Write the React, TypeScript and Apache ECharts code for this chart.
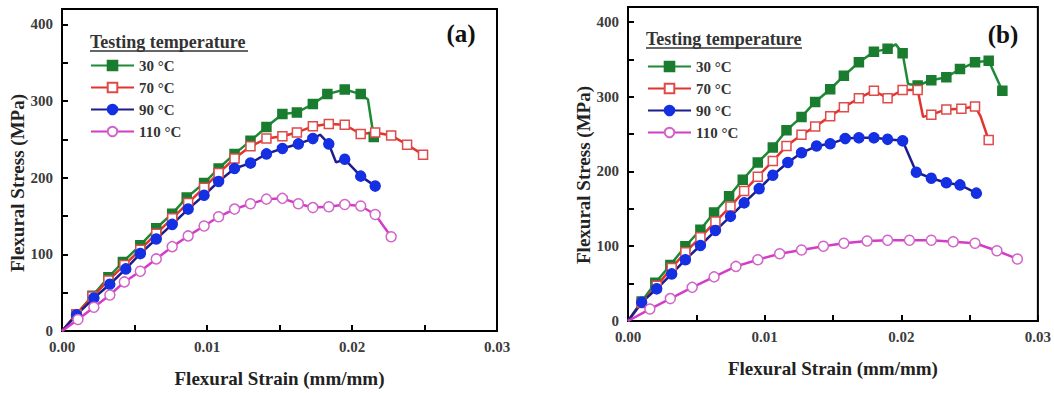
import { useEffect, useRef } from 'react';
import * as echarts from 'echarts';

const temps = ['30 °C', '70 °C', '90 °C', '110 °C'];
const strainTicks = [0, 0.01, 0.02, 0.03];
const stressTicks = [0, 100, 200, 300, 400];

// Each point: [flexural strain (mm/mm), flexural stress (MPa), 1 = marker drawn / 0 = bare vertex]
// Panel (a)
const a30 = [
  [0, 0, 0], [0.001, 22, 1], [0.0021, 46, 1], [0.0032, 70, 1], [0.0042, 90, 1], [0.0054, 112, 1],
  [0.0065, 134, 1], [0.0076, 153, 1], [0.0086, 174, 1], [0.0098, 193, 1], [0.0108, 212, 1],
  [0.0119, 231, 1], [0.013, 248, 1], [0.0141, 266, 1], [0.0152, 283, 1], [0.0162, 285, 1],
  [0.0173, 296, 1], [0.0183, 309, 1], [0.0195, 315, 1], [0.0206, 309, 1], [0.0211, 302, 0],
  [0.0215, 253, 1],
];
const a70 = [
  [0, 0, 0], [0.001, 22, 1], [0.0021, 45, 1], [0.0032, 66, 1], [0.0043, 86, 1], [0.0054, 106, 1],
  [0.0065, 127, 1], [0.0076, 147, 1], [0.0087, 167, 1], [0.0098, 187, 1], [0.0108, 206, 1],
  [0.0119, 225, 1], [0.013, 241, 1], [0.0141, 251, 1], [0.0152, 254, 1], [0.0162, 259, 1],
  [0.0173, 267, 1], [0.0184, 270, 1], [0.0195, 269, 1], [0.0206, 257, 1], [0.0216, 259, 1],
  [0.0227, 255, 1], [0.0238, 243, 1], [0.0249, 230, 1],
];
const a90 = [
  [0, 0, 0], [0.001, 21, 1], [0.0022, 43, 1], [0.0033, 61, 1], [0.0044, 81, 1], [0.0054, 101, 1],
  [0.0065, 120, 1], [0.0076, 139, 1], [0.0087, 159, 1], [0.0098, 177, 1], [0.0108, 195, 1],
  [0.0119, 212, 1], [0.013, 219, 1], [0.0141, 231, 1], [0.0152, 238, 1], [0.0163, 244, 1],
  [0.0173, 251, 1], [0.0178, 256, 0], [0.0184, 244, 1], [0.0189, 220, 0], [0.0195, 224, 1],
  [0.0206, 202, 1], [0.0216, 189, 1],
];
const a110 = [
  [0, 0, 0], [0.0011, 15, 1], [0.0022, 31, 1], [0.0033, 47, 1], [0.0043, 64, 1], [0.0054, 78, 1],
  [0.0065, 94, 1], [0.0076, 110, 1], [0.0087, 124, 1], [0.0098, 137, 1], [0.0108, 149, 1],
  [0.0119, 159, 1], [0.013, 166, 1], [0.0141, 172, 1], [0.0152, 173, 1], [0.0163, 166, 1],
  [0.0173, 161, 1], [0.0184, 162, 1], [0.0195, 165, 1], [0.0206, 163, 1], [0.0216, 152, 1],
  [0.0227, 123, 1],
];

// Panel (b)
const b30 = [
  [0, 0, 0], [0.001, 26, 1], [0.002, 51, 1], [0.0031, 75, 1], [0.0042, 100, 1], [0.0053, 122, 1],
  [0.0063, 145, 1], [0.0074, 167, 1], [0.0084, 189, 1], [0.0095, 212, 1], [0.0106, 232, 1],
  [0.0116, 255, 1], [0.0127, 273, 1], [0.0137, 293, 1], [0.0148, 310, 1], [0.0158, 328, 1],
  [0.0169, 346, 1], [0.018, 360, 1], [0.019, 364, 1], [0.0196, 370, 0], [0.0201, 358, 1],
  [0.0205, 317, 0], [0.0212, 315, 1], [0.0222, 322, 1], [0.0233, 326, 1], [0.0243, 337, 1],
  [0.0254, 346, 1], [0.0264, 348, 1], [0.0274, 308, 1],
];
const b70 = [
  [0, 0, 0], [0.001, 24, 1], [0.0021, 47, 1], [0.0032, 71, 1], [0.0042, 92, 1], [0.0053, 112, 1],
  [0.0064, 133, 1], [0.0075, 153, 1], [0.0085, 174, 1], [0.0095, 193, 1], [0.0106, 214, 1],
  [0.0116, 234, 1], [0.0127, 249, 1], [0.0137, 260, 1], [0.0148, 274, 1], [0.0158, 286, 1],
  [0.0169, 298, 1], [0.018, 308, 1], [0.019, 298, 1], [0.0201, 309, 1], [0.0212, 309, 1],
  [0.0216, 273, 0], [0.0222, 276, 1], [0.0233, 283, 1], [0.0244, 284, 1], [0.0254, 287, 1],
  [0.0258, 274, 0], [0.0264, 242, 1],
];
const b90 = [
  [0, 0, 0], [0.001, 25, 1], [0.0021, 43, 1], [0.0032, 63, 1], [0.0042, 82, 1], [0.0053, 101, 1],
  [0.0064, 121, 1], [0.0075, 140, 1], [0.0085, 158, 1], [0.0096, 177, 1], [0.0106, 195, 1],
  [0.0117, 212, 1], [0.0127, 225, 1], [0.0138, 234, 1], [0.0148, 237, 1], [0.0159, 244, 1],
  [0.0169, 245, 1], [0.018, 245, 1], [0.019, 243, 1], [0.0201, 241, 1], [0.0211, 199, 1],
  [0.0222, 191, 1], [0.0233, 185, 1], [0.0243, 182, 1], [0.0255, 171, 1],
];
const b110 = [
  [0, 0, 0], [0.0016, 16, 1], [0.0031, 30, 1], [0.0047, 45, 1], [0.0063, 59, 1], [0.0079, 73, 1],
  [0.0095, 82, 1], [0.0111, 90, 1], [0.0127, 95, 1], [0.0143, 100, 1], [0.0158, 104, 1],
  [0.0175, 107, 1], [0.019, 108, 1], [0.0206, 108, 1], [0.0222, 108, 1], [0.0238, 106, 1],
  [0.0254, 104, 1], [0.027, 94, 1], [0.0285, 83, 1],
];

const panelA = [a30, a70, a90, a110];
const panelB = [b30, b70, b90, b110];

const FONT = '"Liberation Serif", "Times New Roman", serif';

const looks = [
  { symbol: 'rect', size: 9, line: '#1f8a36', fill: '#1a7c2f', border: '#1a7c2f' },
  { symbol: 'rect', size: 9, line: '#e2332c', fill: '#ffffff', border: '#e04a4a' },
  { symbol: 'circle', size: 10, line: '#1d1d8c', fill: '#1430e2', border: '#1430e2' },
  { symbol: 'circle', size: 10, line: '#d23cc6', fill: '#ffffff', border: '#d264c8' },
];

function lineSeries(points: number[][], k: number, idx: number) {
  const s = looks[k];
  return {
    type: 'line',
    name: temps[k],
    xAxisIndex: idx,
    yAxisIndex: idx,
    symbol: s.symbol,
    symbolSize: s.size,
    lineStyle: { color: s.line, width: 2.5 },
    itemStyle: { color: s.fill, borderColor: s.border, borderWidth: 1.5 },
    data: points.map((p) =>
      p[2] ? [p[0], p[1]] : { value: [p[0], p[1]], symbol: 'none' }
    ),
  };
}

const tickLabel = { fontFamily: FONT, fontWeight: 'bold', fontSize: 15, color: '#3c3c3c' };

function xAxisFor(idx: number) {
  return {
    type: 'value',
    gridIndex: idx,
    min: strainTicks[0],
    max: strainTicks[strainTicks.length - 1],
    interval: 0.01,
    name: 'Flexural Strain (mm/mm)',
    nameLocation: 'middle',
    nameGap: 38,
    nameTextStyle: { fontFamily: FONT, fontWeight: 'bold', fontSize: 19, color: '#222' },
    axisLine: { show: true, onZero: false, lineStyle: { color: '#000', width: 2 } },
    axisTick: { show: true, inside: true, length: 6, lineStyle: { color: '#000', width: 2 } },
    minorTick: { show: true, splitNumber: 2, length: 6, lineStyle: { color: '#000', width: 2 } },
    splitLine: { show: false },
    axisLabel: {
      ...tickLabel,
      margin: 8,
      formatter: (v: number) => v.toFixed(2),
    },
  };
}

function yAxisFor(idx: number) {
  return {
    type: 'value',
    gridIndex: idx,
    min: stressTicks[0],
    max: 420,
    interval: 100,
    axisLine: { show: true, onZero: false, lineStyle: { color: '#000', width: 2 } },
    axisTick: { show: true, inside: true, length: 6, lineStyle: { color: '#000', width: 2 } },
    minorTick: { show: true, splitNumber: 2, length: 6, lineStyle: { color: '#000', width: 2 } },
    splitLine: { show: false },
    axisLabel: {
      ...tickLabel,
      margin: 9,
      showMaxLabel: false,
      formatter: (v: number) => (stressTicks.includes(v) ? String(v) : ''),
    },
  };
}

function legendAt(left: number, top: number) {
  return {
    data: temps,
    orient: 'vertical',
    left,
    top,
    padding: 0,
    itemWidth: 43,
    itemHeight: 12,
    itemGap: 7,
    selectedMode: false,
    textStyle: { fontFamily: FONT, fontWeight: 'bold', fontSize: 15, color: '#333' },
  };
}

function legendHeading(x: number, y: number, w: number) {
  return [
    {
      type: 'text',
      x,
      y,
      style: {
        text: 'Testing temperature',
        fontFamily: FONT,
        fontWeight: 'bold',
        fontSize: 18,
        fill: '#333',
        verticalAlign: 'middle',
      },
    },
    {
      type: 'line',
      shape: { x1: x, y1: y + 9, x2: x + w, y2: y + 9 },
      style: { stroke: '#333', lineWidth: 1.5 },
    },
  ];
}

function yTitle(x: number, y: number) {
  return {
    type: 'text',
    x,
    y,
    rotation: Math.PI / 2,
    style: {
      text: 'Flexural Stress (MPa)',
      fontFamily: FONT,
      fontWeight: 'bold',
      fontSize: 19,
      fill: '#222',
      align: 'center',
      verticalAlign: 'middle',
    },
  };
}

function panelTag(text: string, x: number, y: number) {
  return {
    type: 'text',
    x,
    y,
    style: {
      text,
      fontFamily: FONT,
      fontWeight: 'bold',
      fontSize: 25,
      fill: '#111',
      align: 'center',
      verticalAlign: 'middle',
    },
  };
}

export default function App() {
  const ref = useRef<HTMLDivElement>(null);

  useEffect(() => {
    if (!ref.current) return;
    const chart = echarts.init(ref.current, null, { renderer: 'svg' });
    chart.setOption({
      animation: false,
      backgroundColor: '#ffffff',
      grid: [
        { left: 62, top: 9, width: 435, height: 324, show: true, borderColor: '#000', borderWidth: 2 },
        { left: 628, top: 7, width: 411, height: 314, show: true, borderColor: '#000', borderWidth: 2 },
      ],
      xAxis: [xAxisFor(0), xAxisFor(1)],
      yAxis: [yAxisFor(0), yAxisFor(1)],
      legend: [legendAt(90, 58), legendAt(647, 59)],
      series: [
        ...panelA.map((pts, k) => lineSeries(pts, k, 0)),
        ...panelB.map((pts, k) => lineSeries(pts, k, 1)),
      ],
      graphic: [
        ...legendHeading(90, 42, 158),
        ...legendHeading(646, 39, 156),
        panelTag('(a)', 461, 33),
        panelTag('(b)', 1003, 34),
        yTitle(17, 183),
        yTitle(583, 175),
      ],
    });
    return () => chart.dispose();
  }, []);

  return (
    <div
      ref={ref}
      style={{ position: 'fixed', left: 0, top: 0, width: 1054, height: 393 }}
    />
  );
}
